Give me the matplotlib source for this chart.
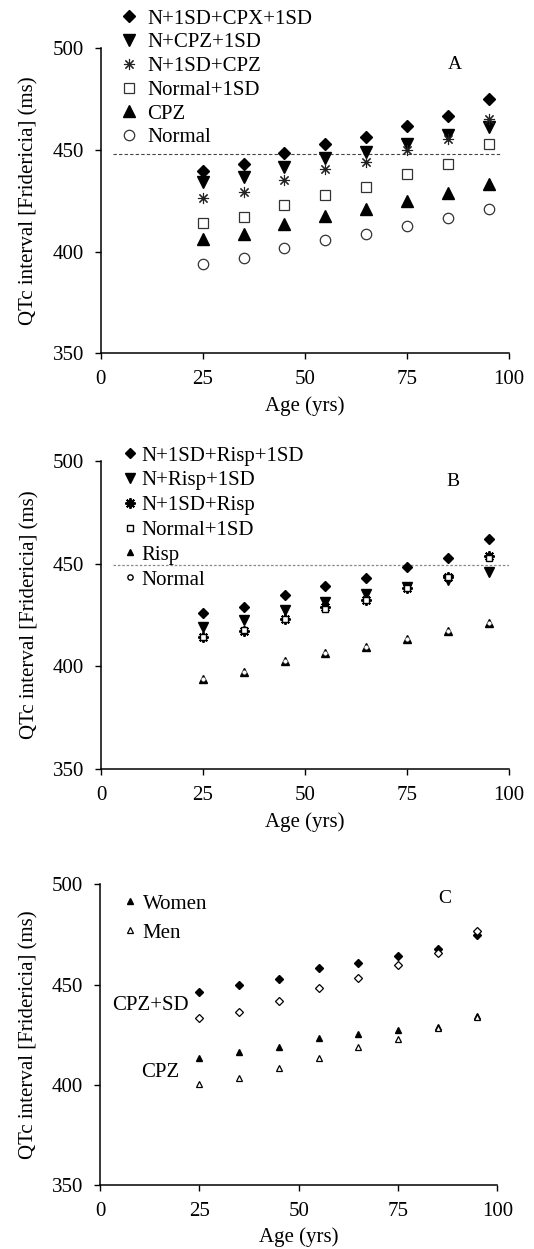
import matplotlib
matplotlib.use("Agg")
import matplotlib.pyplot as plt
from matplotlib.lines import Line2D

plt.rcParams['font.family'] = ['Liberation Serif', 'DejaVu Serif']

ages = [25, 35, 45, 55, 65, 75, 85, 95]

# Panel A (chlorpromazine)
a_n1sd_cpz1sd = [439.8, 443.0, 448.4, 453.0, 456.6, 462.0, 466.6, 475.1]
a_n_cpz1sd = [434.4, 436.9, 441.8, 446.2, 449.2, 453.0, 457.4, 461.5]
a_n1sd_cpz = [426.2, 429.3, 435.2, 440.7, 443.9, 450.0, 455.2, 465.2]
a_normal1sd = [413.9, 416.9, 423.1, 427.9, 432.0, 438.0, 443.0, 452.8]
a_cpz = [406.0, 408.7, 413.6, 417.7, 420.8, 424.9, 429.0, 433.1]
a_normal = [393.8, 396.7, 401.8, 405.7, 408.7, 412.8, 416.7, 420.8]
a_threshold = 448

# Panel B (risperidone)
b_n1sd_risp1sd = [426.0, 428.9, 434.6, 439.3, 442.9, 448.4, 452.9, 461.7]
b_n_risp1sd = [419.2, 422.4, 427.6, 431.3, 435.1, 438.6, 441.9, 445.9]
b_n1sd_risp = [414.3, 417.0, 423.2, 428.9, 432.1, 438.1, 443.5, 453.6]
b_normal1sd = [414.3, 417.5, 423.2, 428.1, 432.5, 438.3, 443.5, 452.8]
b_risp = [394.0, 397.2, 402.4, 406.5, 409.4, 413.5, 417.2, 421.3]
b_normal = [394.0, 397.2, 402.4, 406.5, 409.4, 413.5, 417.2, 421.3]
b_threshold = 449.5

# Panel C (women vs men)
c_women_cpzsd = [446.1, 449.6, 452.9, 458.1, 460.6, 464.2, 467.6, 474.7]
c_men_cpzsd = [433.1, 436.3, 441.8, 448.1, 453.4, 459.6, 465.6, 476.7]
c_women_cpz = [413.2, 416.2, 419.0, 423.3, 425.3, 427.3, 428.8, 434.3]
c_men_cpz = [400.4, 403.5, 408.2, 413.5, 418.7, 422.7, 428.5, 433.6]

xticks = [0, 25, 50, 75, 100]
yticks = [350, 400, 450, 500]
ylabel = 'QTc interval [Fridericia] (ms)'
xlabel = 'Age (yrs)'

W, H = 534, 1249
fig = plt.figure(figsize=(W / 100, H / 100), dpi=100)


def px_axes(left, right, top, bottom):
    return fig.add_axes([left / W, 1 - bottom / H, (right - left) / W, (bottom - top) / H])


def style(ax):
    ax.set_xlim(0, 100)
    ax.set_ylim(350, 500)
    ax.set_xticks(xticks)
    ax.set_yticks(yticks)
    for s in ('top', 'right'):
        ax.spines[s].set_visible(False)
    for s in ('left', 'bottom'):
        ax.spines[s].set_linewidth(1.1)
    ax.tick_params(direction='out', length=4, width=1.0, labelsize=15)
    ax.tick_params(axis='x', pad=8)
    ax.tick_params(axis='y', pad=8)
    ax.set_xlabel(xlabel, fontsize=15, labelpad=5)
    ax.set_ylabel(ylabel, fontsize=15, labelpad=10)
    ax.patch.set_alpha(0)


STAR = (8, 2, 0)

# ---------------- Panel A ----------------
axA = px_axes(100.7, 509, 48.3, 353.3)
style(axA)
axA.plot([3, 98], [a_threshold, a_threshold], ls=(0, (3, 2)), color='#444444', lw=0.8)
hA = []
hA.append(axA.plot(ages, a_n1sd_cpz1sd, ls='none', marker='D', ms=6.0, mfc='black', mec='black', label='N+1SD+CPX+1SD')[0])
hA.append(axA.plot(ages, a_n_cpz1sd, ls='none', marker='v', ms=8.5, mfc='black', mec='black', label='N+CPZ+1SD')[0])
hA.append(axA.plot(ages, a_n1sd_cpz, ls='none', marker=STAR, ms=8.0, mfc='none', mec='#222222', mew=0.8, label='N+1SD+CPZ')[0])
hA.append(axA.plot(ages, a_normal1sd, ls='none', marker='s', ms=7.3, mfc='white', mec='#333333', mew=0.9, label='Normal+1SD')[0])
hA.append(axA.plot(ages, a_cpz, ls='none', marker='^', ms=8.0, mfc='black', mec='black', label='CPZ')[0])
hA.append(axA.plot(ages, a_normal, ls='none', marker='o', ms=7.5, mfc='white', mec='#333333', mew=0.9, label='Normal')[0])
axA.text(86.8, 491.8, 'A', fontsize=14, ha='center', va='center')
fig.legend(handles=hA, loc='upper left', bbox_to_anchor=(121 / W, 1 - 9 / H),
           frameon=False, fontsize=15, handlelength=0.8, handletextpad=0.45,
           labelspacing=0.2, borderpad=0, borderaxespad=0, numpoints=1)

# ---------------- Panel B ----------------
axB = px_axes(101, 509, 460.7, 769.3)
style(axB)
axB.plot([3, 100], [b_threshold, b_threshold], ls=(0, (2, 1.5)), color='#888888', lw=0.9)
hB = []
hB.append(axB.plot(ages, b_n1sd_risp1sd, ls='none', marker='D', ms=5.2, mfc='black', mec='black', label='N+1SD+Risp+1SD')[0])
hB.append(axB.plot(ages, b_n_risp1sd, ls='none', marker='v', ms=7.5, mfc='black', mec='black', label='N+Risp+1SD')[0])
hB.append(axB.plot(ages, b_n1sd_risp, ls='none', marker=STAR, ms=7.5, mfc='none', mec='black', mew=1.4, label='N+1SD+Risp')[0])
hB.append(axB.plot(ages, b_normal1sd, ls='none', marker='s', ms=4.3, mfc='white', mec='black', mew=1.0, label='Normal+1SD')[0])
hB.append(axB.plot(ages, b_risp, ls='none', marker='^', ms=5.8, mfc='black', mec='black', label='Risp')[0])
hB.append(axB.plot(ages, b_normal, ls='none', marker='o', ms=2.6, mfc='white', mec='white', mew=0.3, label='Normal')[0])
axB.text(86.3, 489.8, 'B', fontsize=14, ha='center', va='center')
legB_handles = [hB[0], hB[1], hB[2], hB[3],
                Line2D([], [], ls='none', marker='^', ms=5.0, mfc='black', mec='black'),
                Line2D([], [], ls='none', marker='o', ms=3.8, mfc='white', mec='black', mew=1.0)]
fig.legend(handles=legB_handles, labels=[h.get_label() for h in hB], loc='upper left',
           bbox_to_anchor=(122 / W, 1 - 446 / H),
           frameon=False, fontsize=15, handlelength=0.8, handletextpad=0.15,
           labelspacing=0.25, borderpad=0, borderaxespad=0, numpoints=1)

# ---------------- Panel C ----------------
axC = px_axes(100, 497.3, 884.3, 1185)
style(axC)
axC.plot(ages, c_women_cpzsd, ls='none', marker='D', ms=3.9, mfc='black', mec='black')
axC.plot(ages, c_men_cpzsd, ls='none', marker='D', ms=3.9, mfc='white', mec='black', mew=0.9)
hC1 = axC.plot(ages, c_women_cpz, ls='none', marker='^', ms=4.0, mfc='black', mec='black', label='Women')[0]
hC2 = axC.plot(ages, c_men_cpz, ls='none', marker='^', ms=4.0, mfc='white', mec='black', mew=0.9, label='Men')[0]
axC.text(86.7, 493, 'C', fontsize=14, ha='center', va='center')
axC.text(12.6, 439.5, 'CPZ+SD', fontsize=15, ha='center', va='center')
axC.text(15.2, 406.2, 'CPZ', fontsize=15, ha='center', va='center')
axC.legend(handles=[hC1, hC2], loc='upper left', bbox_to_anchor=(122 / W, 1 - 894 / H),
           bbox_transform=fig.transFigure,
           frameon=False, fontsize=15, handlelength=0.8, handletextpad=0.2,
           labelspacing=0.46, borderpad=0, borderaxespad=0, numpoints=1)

fig.savefig('out.png', dpi=100)
